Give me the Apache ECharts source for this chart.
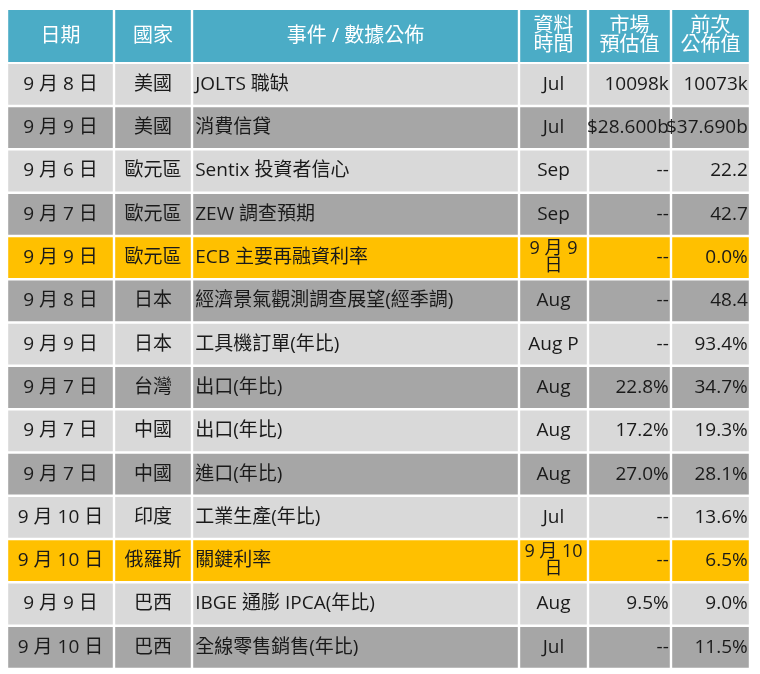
<!DOCTYPE html>
<html><head><meta charset="utf-8">
<script src="https://cdn.jsdelivr.net/npm/echarts@6/dist/echarts.min.js"></script>
<style>html,body{margin:0;padding:0;background:#fff}#c{width:760px;height:674px}</style>
</head><body><div id="c"></div>
<script>
var headers = ['日期','國家','事件 / 數據公佈','資料\n時間','市場\n預估值','前次\n公佈值'];
var dates = ['9 月 8 日','9 月 9 日','9 月 6 日','9 月 7 日','9 月 9 日','9 月 8 日','9 月 9 日','9 月 7 日','9 月 7 日','9 月 7 日','9 月 10 日','9 月 10 日','9 月 9 日','9 月 10 日'];
var countries = ['美國','美國','歐元區','歐元區','歐元區','日本','日本','台灣','中國','中國','印度','俄羅斯','巴西','巴西'];
var events = ['JOLTS 職缺','消費信貸','Sentix 投資者信心','ZEW 調查預期','ECB 主要再融資利率','經濟景氣觀測調查展望(經季調)','工具機訂單(年比)','出口(年比)','出口(年比)','進口(年比)','工業生產(年比)','關鍵利率','IBGE 通膨 IPCA(年比)','全線零售銷售(年比)'];
var periods = ['Jul','Jul','Sep','Sep','9 月 9\n日','Aug','Aug P','Aug','Aug','Aug','Jul','9 月 10\n日','Aug','Jul'];
var estimates = ['10098k','$28.600b','--','--','--','--','--','22.8%','17.2%','27.0%','--','--','9.5%','--'];
var previous = ['10073k','$37.690b','22.2','42.7','0.0%','48.4','93.4%','34.7%','19.3%','28.1%','13.6%','6.5%','9.0%','11.5%'];
var highlight = [4, 11];

var colEdges = [7,114,192,519,588,671,750];
var aligns = ['center','center','left','center','right','right'];
var cols = [dates,countries,events,periods,estimates,previous];
var data = [];
headers.forEach(function(h,c){data.push([c,-1,h]);});
for (var r=0;r<dates.length;r++) for (var c=0;c<6;c++) data.push([c,r,cols[c][r]]);
var F = '"Open Sans","Noto Sans CJK TC",sans-serif';
function rowTop(r){return r<0?10:64+r*43.3;}
function rowBot(r){return r<0?62:64+(r+1)*43.3-2.5;}
var chart = echarts.init(document.getElementById('c'));
chart.setOption({
  animation:false,
  grid:{left:0,right:0,top:0,bottom:0},
  xAxis:{type:'value',min:0,max:760,show:false},
  yAxis:{type:'value',min:0,max:674,inverse:true,show:false},
  series:[{type:'custom',data:data,renderItem:function(p,api){
    var c=api.value(0), r=api.value(1), t=data[p.dataIndex][2];
    var p0=api.coord([colEdges[c]+1.2,rowTop(r)]), p1=api.coord([colEdges[c+1]-1.2,rowBot(r)]);
    var fill;
    if(r<0) fill='#4BACC6';
    else if(highlight.indexOf(r)>=0) fill='#FFC000';
    else fill=(r%2===0)?'#D9D9D9':'#A6A6A6';
    var al = r<0?'center':aligns[c];
    var tx = al==='center'?(p0[0]+p1[0])/2:(al==='left'?p0[0]+2:p1[0]-1);
    var multi = t.indexOf('\n')>=0;
    return {type:'group',children:[
      {type:'rect',shape:{x:p0[0],y:p0[1],width:p1[0]-p0[0],height:p1[1]-p0[1]},style:{fill:fill}},
      {type:'text',style:{x:tx,y:(p0[1]+p1[1])/2,text:t,align:al,verticalAlign:'middle',
        fill:r<0?'#fff':'#1a1a1a',font:(r<0?'20px ':(multi?'18px ':'19px '))+F,lineHeight:multi?(r<0?19:17):22}}
    ]};
  }}]
});
</script></body></html>
